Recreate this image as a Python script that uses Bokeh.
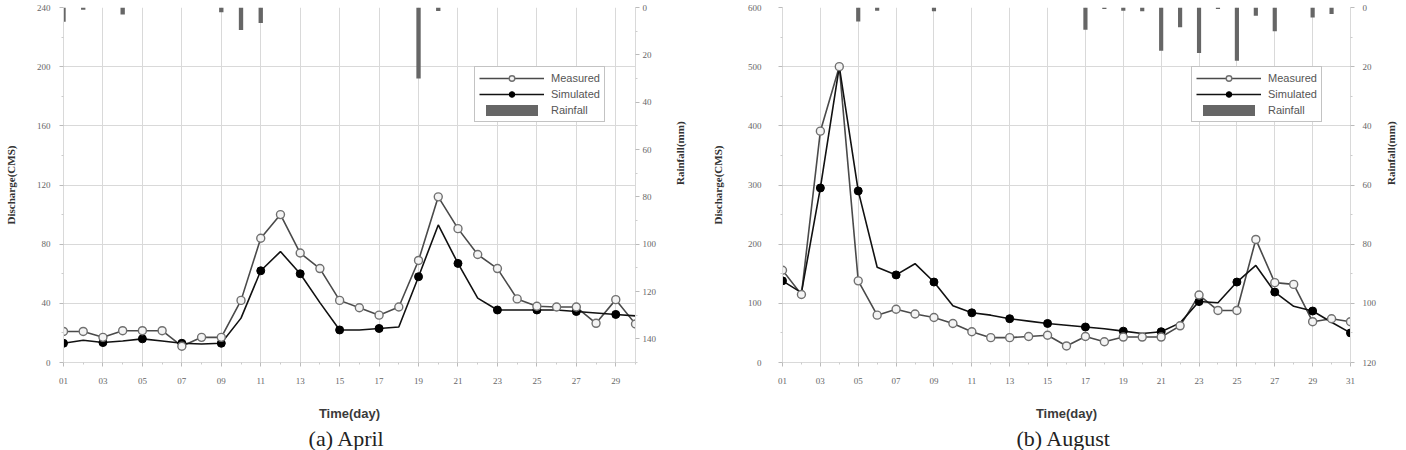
import math
from bokeh.plotting import figure
from bokeh.layouts import row
from bokeh.models import (Range1d, LinearAxis, FixedTicker, Legend, LegendItem,
                          Title, ColumnDataSource)
from bokeh.embed import file_html
from bokeh.resources import INLINE

# ---- April ----
apr_days = list(range(1, 31))
apr_measured = [21, 21, 17, 21.5, 21.5, 21.5, 11, 17, 17, 42,
                84, 100, 74, 63.5, 42, 37, 32, 37.5, 69, 112,
                90.5, 73, 63.5, 43, 38, 37.5, 37.5, 26.5, 42.5, 26]
apr_simulated = [13, 15, 13.5, 14.5, 16, 14.5, 13, 12.5, 13, 30,
                 62, 75, 60, 40.5, 22, 22, 23, 24, 58, 93,
                 67, 43.5, 35.5, 35.5, 35.5, 35.5, 34.5, 33.5, 32.5, 31.5]
apr_rain = [6, 1, 0, 3, 0, 0, 0, 0, 2, 9.5,
            6.5, 0, 0, 0, 0, 0, 0, 0, 30, 1.5,
            0, 0, 0, 0, 0, 0, 0, 0, 0, 0]

# ---- August ----
aug_days = list(range(1, 32))
aug_measured = [156, 115, 391, 500, 138, 80, 90, 82, 76, 66,
                52, 42, 42, 44, 46, 28, 44, 35, 43, 43,
                43, 62, 114, 88, 88, 208, 135, 132, 69, 74, 69]
aug_simulated = [138, 118, 295, 500, 290, 161, 148, 167, 136, 96,
                 84, 80, 74, 70, 66, 63, 60, 57, 53, 49,
                 52, 67, 103, 101, 136, 164, 119, 95, 87, 68, 50]
aug_rain = [0, 0, 0, 0, 4.7, 1.1, 0, 0, 1.3, 0,
            0, 0, 0, 0, 0, 0, 7.5, 0.5, 1.1, 1.3,
            14.6, 6.7, 15.4, 0.5, 18, 2.8, 8, 0, 3.4, 2.2, 0]

GRID = "#d9d9d9"
TICK_FONT = "Liberation Serif"


def build(days, measured, simulated, rain, q_max, q_step, r_max, r_ticks_max,
          r_step, caption, border_left, border_right, lab_standoff_l,
          tick_standoff_l, tick_standoff_r, lab_standoff_r, legend_x):
    n = days[-1]
    p = figure(width=703, height=450, output_backend="svg", toolbar_location=None,
               x_range=Range1d(1, n), y_range=Range1d(0, q_max),
               min_border_left=border_left, min_border_right=border_right,
               min_border_top=7, min_border_bottom=87)
    p.outline_line_color = None
    p.background_fill_color = "white"
    p.border_fill_color = "white"

    odd = list(range(1, n + 1, 2))
    even = list(range(2, n + 1, 2))
    xt = FixedTicker(ticks=odd, minor_ticks=even)
    p.xaxis.ticker = xt
    p.xaxis.major_label_overrides = {d: f"{d:02d}" for d in odd}
    p.xgrid.ticker = xt

    q_ticks = list(range(0, q_max + 1, q_step))
    q_minor = [t + q_step / 2 for t in q_ticks[:-1]]
    yt = FixedTicker(ticks=q_ticks, minor_ticks=q_minor)
    p.yaxis.ticker = yt
    p.ygrid.ticker = yt
    p.xgrid.grid_line_color = GRID
    p.ygrid.grid_line_color = GRID

    p.xaxis.axis_label = "Time(day)"
    p.yaxis.axis_label = "Discharge(CMS)"

    # inverted rainfall scale on the right
    p.extra_y_ranges = {"rain": Range1d(start=r_max, end=0)}
    r_ticks = list(range(0, r_ticks_max + 1, r_step))
    r_minor = [t + r_step / 2 for t in range(0, r_max, r_step)]
    rain_axis = LinearAxis(y_range_name="rain",
                           ticker=FixedTicker(ticks=r_ticks, minor_ticks=r_minor),
                           axis_label="Rainfall(mm)")
    p.add_layout(rain_axis, "right")

    for ax in p.axis:
        ax.axis_line_color = GRID
        ax.major_tick_line_color = "#bbbbbb"
        ax.minor_tick_line_color = "#cccccc"
        ax.major_tick_in = 0
        ax.major_tick_out = 4
        ax.minor_tick_in = 0
        ax.minor_tick_out = 2
        ax.major_label_text_font = TICK_FONT
        ax.major_label_text_font_size = "9px"
        ax.major_label_text_color = "#666666"
        ax.axis_label_text_font = TICK_FONT
        ax.axis_label_text_font_style = "bold"
        ax.axis_label_text_font_size = "11px"
        ax.axis_label_text_color = "#333333"

    p.xaxis.major_label_standoff = 11
    p.xaxis.axis_label_standoff = 19
    p.xaxis.axis_label_text_font = "Liberation Sans"
    p.xaxis.axis_label_text_font_size = "13px"
    p.xaxis.axis_label_text_color = "#3a3a3a"

    p.yaxis[0].major_label_standoff = tick_standoff_l
    p.yaxis[0].axis_label_standoff = lab_standoff_l
    rain_axis.major_label_standoff = tick_standoff_r
    rain_axis.axis_label_standoff = lab_standoff_r
    rain_axis.axis_label_orientation = math.pi / 2

    # rainfall bars hanging from the top
    src_r = ColumnDataSource(dict(x=days, r=rain, z=[0] * len(days)))
    bars = p.vbar(x="x", top="z", bottom="r", width=0.22, source=src_r,
                  y_range_name="rain", fill_color="#666666", line_color=None)

    # discharge series
    src = ColumnDataSource(dict(x=days, m=measured, s=simulated))
    odd_idx = [i for i, d in enumerate(days) if d % 2 == 1]
    src_odd = ColumnDataSource(dict(x=[days[i] for i in odd_idx],
                                    s=[simulated[i] for i in odd_idx]))

    l_m = p.line("x", "m", source=src, line_color="#4a4a4a", line_width=1.6)
    l_s = p.line("x", "s", source=src, line_color="#111111", line_width=1.6)
    c_s = p.scatter("x", "s", source=src_odd, marker="circle", size=8,
                    fill_color="black", line_color="black")
    c_m = p.scatter("x", "m", source=src, marker="circle", size=8,
                    fill_color="#f4f4f4", line_color="#707070", line_width=1.4)

    legend = Legend(items=[LegendItem(label="Measured", renderers=[l_m, c_m]),
                           LegendItem(label="Simulated", renderers=[l_s, c_s]),
                           LegendItem(label="Rainfall", renderers=[bars])],
                    location=(legend_x, 240),
                    glyph_width=65, glyph_height=14, label_height=14,
                    spacing=2, padding=4, margin=0, label_standoff=7,
                    label_text_font="Liberation Sans", label_text_font_size="11px",
                    label_text_color="#555555", border_line_color="#888888",
                    border_line_width=1, background_fill_alpha=1.0)
    p.add_layout(legend)

    # figure caption under the axis title
    p.add_layout(Title(text=caption, align="center", text_font=TICK_FONT,
                       text_font_size="22px", text_font_style="normal",
                       text_color="#222222", standoff=0), "below")
    return p


p1 = build(apr_days, apr_measured, apr_simulated, apr_rain, 240, 40, 150, 140, 20,
           "(a)  April", 63, 68, 17, 9, 3, 21, 411)
p2 = build(aug_days, aug_measured, aug_simulated, aug_rain, 600, 100, 120, 120, 20,
           "(b)  August", 79, 54, 21, 17, 8, 12, 409)

layout = row(p1, p2, spacing=0)
open("out.html", "w").write(file_html(layout, INLINE))
